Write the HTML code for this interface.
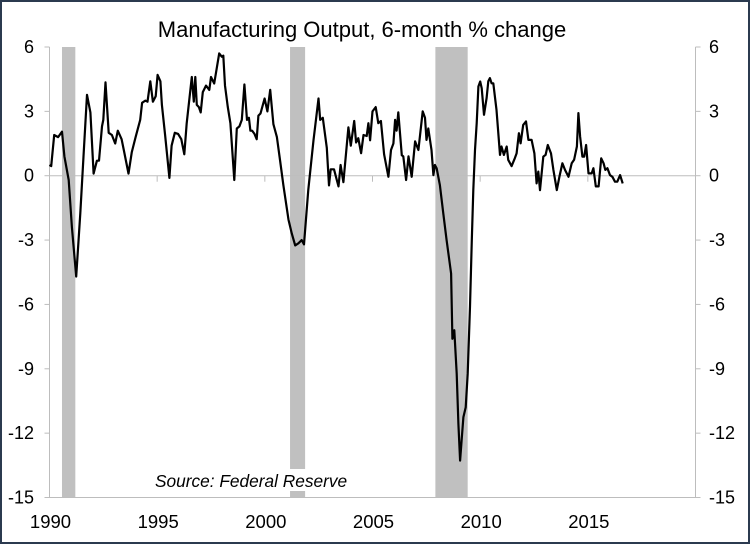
<!DOCTYPE html>
<html><head><meta charset="utf-8"><style>
html,body{margin:0;padding:0;background:#fff}
#wrap{position:relative;width:750px;height:544px;box-sizing:border-box;border:2px solid #2b3a4f;overflow:hidden}
svg{position:absolute;left:-2px;top:-2px}
text{font-family:"Liberation Sans",sans-serif;fill:#000}
</style></head><body>
<div id="wrap">
<svg id="chart" width="750" height="544"></svg>
</div>
<script>
const years=[1990.0,1990.08,1990.22,1990.4,1990.58,1990.69,1990.89,1991.04,1991.24,1991.43,1991.58,1991.74,1991.9,1992.05,1992.2,1992.3,1992.44,1992.5,1992.6,1992.75,1992.9,1993.05,1993.17,1993.35,1993.45,1993.67,1993.82,1994.0,1994.21,1994.3,1994.45,1994.55,1994.68,1994.8,1994.93,1995.02,1995.15,1995.22,1995.37,1995.57,1995.67,1995.82,1995.97,1996.12,1996.26,1996.37,1996.61,1996.7,1996.77,1996.84,1996.94,1997.02,1997.12,1997.27,1997.42,1997.5,1997.65,1997.88,1998.0,1998.07,1998.15,1998.28,1998.4,1998.58,1998.7,1998.82,1998.93,1999.05,1999.17,1999.26,1999.33,1999.41,1999.52,1999.62,1999.7,1999.8,1999.99,2000.12,2000.25,2000.4,2000.56,2000.71,2000.86,2001.1,2001.25,2001.41,2001.56,2001.71,2001.82,2002.02,2002.26,2002.49,2002.57,2002.69,2002.88,2002.98,2003.06,2003.21,2003.34,2003.42,2003.52,2003.65,2003.88,2003.99,2004.15,2004.24,2004.34,2004.47,2004.58,2004.73,2004.81,2004.89,2005.0,2005.15,2005.27,2005.39,2005.54,2005.74,2005.86,2005.97,2006.05,2006.12,2006.2,2006.36,2006.43,2006.56,2006.67,2006.82,2006.98,2007.13,2007.33,2007.44,2007.51,2007.59,2007.74,2007.83,2007.9,2007.98,2008.13,2008.29,2008.44,2008.65,2008.71,2008.8,2008.91,2008.99,2009.07,2009.14,2009.22,2009.33,2009.42,2009.53,2009.61,2009.68,2009.76,2009.84,2009.92,2010.0,2010.07,2010.18,2010.3,2010.38,2010.45,2010.53,2010.61,2010.76,2010.92,2010.99,2011.1,2011.23,2011.3,2011.46,2011.61,2011.69,2011.8,2011.88,2012.0,2012.13,2012.24,2012.39,2012.52,2012.62,2012.7,2012.78,2012.93,2013.04,2013.14,2013.29,2013.4,2013.56,2013.68,2013.82,2013.94,2014.1,2014.25,2014.36,2014.49,2014.56,2014.64,2014.75,2014.83,2014.92,2015.03,2015.18,2015.26,2015.37,2015.5,2015.62,2015.73,2015.81,2015.91,2016.03,2016.14,2016.26,2016.37,2016.5,2016.62];
const values=[0.5,0.45,1.9,1.8,2.05,0.9,-0.2,-2.4,-4.7,-1.75,0.9,3.77,2.95,0.1,0.7,0.7,2.3,2.6,4.35,2.0,1.9,1.5,2.1,1.7,1.2,0.1,1.1,1.8,2.6,3.4,3.5,3.45,4.4,3.45,3.7,4.7,4.4,3.3,1.9,-0.1,1.4,2.0,1.95,1.7,1.0,2.45,4.6,3.45,4.6,3.3,3.2,2.95,3.9,4.2,4.0,4.6,4.3,5.7,5.55,5.6,4.2,3.2,2.45,-0.2,2.2,2.3,2.6,4.25,2.6,2.7,2.1,2.1,1.95,1.7,2.8,2.9,3.6,3.0,4.0,2.4,1.8,0.7,-0.45,-2.05,-2.7,-3.25,-3.15,-3.0,-3.2,-0.65,1.65,3.6,2.6,2.7,1.3,-0.45,0.3,0.3,-0.2,-0.5,0.5,-0.3,2.25,1.4,2.55,1.55,1.75,1.05,1.9,1.85,2.45,1.65,3.0,3.2,2.45,2.55,1.0,-0.05,1.2,1.5,2.6,2.1,2.95,0.95,0.9,-0.2,0.9,-0.05,1.6,1.2,3.0,2.7,1.67,2.2,1.2,0.03,0.5,0.34,-0.44,-1.76,-3.0,-4.56,-7.6,-7.2,-9.23,-11.57,-13.28,-12.35,-11.25,-10.8,-9.23,-6.1,-3.0,-0.67,1.2,2.45,4.16,4.39,4.08,2.84,3.62,4.4,4.55,4.31,4.31,3.07,0.97,1.36,0.97,1.36,0.74,0.45,0.81,1.04,1.98,1.51,2.37,2.53,1.67,1.67,1.04,-0.36,0.19,-0.67,0.89,0.97,1.43,1.04,0.27,-0.67,-0.05,0.58,0.27,-0.05,0.58,0.74,1.36,2.92,1.83,0.89,0.89,1.43,0.11,0.11,0.35,-0.5,-0.5,0.81,0.58,0.27,0.35,0.03,-0.05,-0.28,-0.28,0.03,-0.36];
const recStart=[1990.58,2001.17,2007.92];
const recEnd=[1991.2,2001.87,2009.42];
const yTicks=[6,3,0,-3,-6,-9,-12,-15];
const xTicks=[1990,1995,2000,2005,2010,2015];

const NS='http://www.w3.org/2000/svg';
const svg=document.getElementById('chart');
const X0=49.5,X1=695.5,Y0=47,Y1=497.5;
const xs=y=>X0+(y-1990)/30*(X1-X0);
const ys=v=>Y0+(6-v)/21*(Y1-Y0);
function mk(tag,attrs,parent){const e=document.createElementNS(NS,tag);for(const k in attrs)e.setAttribute(k,attrs[k]);(parent||svg).appendChild(e);return e;}

recStart.forEach((s,i)=>{
  const r=mk('rect',{x:xs(s),y:Y0,width:xs(recEnd[i])-xs(s),height:Y1-Y0,fill:'#c0c0c0'});
  
  
});
const ax=[[X0,Y0,X0,Y1],[X1,Y0,X1,Y1],[X0,Y1,X1,Y1],[X0,ys(0),X1,ys(0)]];
ax.forEach((a,i)=>{const l=mk('line',{x1:a[0],y1:a[1],x2:a[2],y2:a[3],stroke:'#bdbdbd','stroke-width':1});
  
  });
yTicks.forEach(v=>{
  const y=ys(v);
  mk('line',{x1:X0-5,y1:y,x2:X0,y2:y,stroke:'#bdbdbd'});
  mk('line',{x1:X1,y1:y,x2:X1+5,y2:y,stroke:'#bdbdbd'});
  const t=mk('text',{x:34,y:y+6,'text-anchor':'end','font-size':18});t.textContent=v;
  
  
  const t2=mk('text',{x:709,y:y+6,'text-anchor':'start','font-size':18});t2.textContent=v;
  
  
});
xTicks.forEach(yr=>{
  const x=xs(yr);
  mk('line',{x1:x,y1:ys(0),x2:x,y2:ys(0)+6,stroke:'#bdbdbd'});
  const t=mk('text',{x:x+1,y:528,'text-anchor':'middle','font-size':18.5});t.textContent=yr;
  
  
});
const sb=mk('rect',{x:150,y:469,width:206,height:22,fill:'#fff'});


const st=mk('text',{x:155,y:487,'font-size':17.3,'font-style':'italic'});st.textContent='Source: Federal Reserve';


const d=years.map((y,i)=>(i?'L':'M')+xs(y).toFixed(1)+','+ys(values[i]).toFixed(1)).join('');
const p=mk('path',{d:d,fill:'none',stroke:'#000','stroke-width':2.2,'stroke-linejoin':'round'});


const ti=mk('text',{x:362,y:37,'text-anchor':'middle','font-size':22});ti.textContent='Manufacturing Output, 6-month % change';


</script>
</body></html>
